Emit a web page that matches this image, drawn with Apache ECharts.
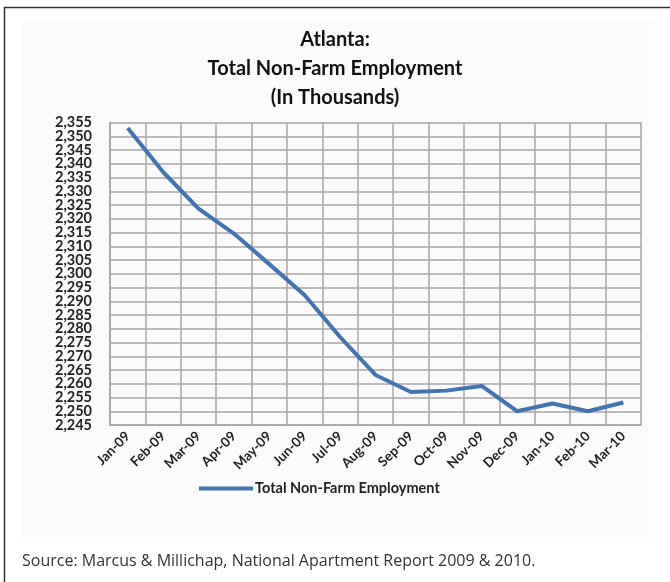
<!DOCTYPE html>
<html>
<head>
<meta charset="utf-8">
<script src="https://cdn.jsdelivr.net/npm/echarts@6/dist/echarts.min.js"></script>
<style>
html,body{margin:0;padding:0;background:#fff;}
#c{width:670px;height:582px;}
</style>
</head>
<body>
<div id="c"></div>
<script>
var titleLines = ['Atlanta:', 'Total Non-Farm Employment', '(In Thousands)'];
var categories = ['Jan-09','Feb-09','Mar-09','Apr-09','May-09','Jun-09','Jul-09','Aug-09','Sep-09','Oct-09','Nov-09','Dec-09','Jan-10','Feb-10','Mar-10'];
var employment = [2353, 2337, 2323.7, 2314.6, 2303.5, 2292.2, 2277, 2263.2, 2257, 2257.5, 2259.2, 2250, 2252.8, 2250, 2253.2];
var seriesName = 'Total Non-Farm Employment';
var yMin = 2245, yMax = 2355, yStep = 5;
var sourceText = 'Source: Marcus & Millichap, National Apartment Report 2009 & 2010.';

var chart = echarts.init(document.getElementById('c'), null, {renderer: 'canvas'});
var gridColor = '#aaa4a4';
var titleGraphics = titleLines.map(function (t, i) {
  return {type: 'text', x: 335, y: 30 + i * 29,
    style: {text: t, font: 'bold 20px Lato', fill: '#111', align: 'center', textAlign: 'center'}};
});
function stepIndex(v) { return Math.round((v - yMin) / yStep); }
var yLabelStyle = {margin: 18, fontFamily: 'Lato', fontSize: 14.5, fontWeight: 'bold', color: '#222', hideOverlap: false};
chart.setOption({
  animation: false,
  backgroundColor: '#ffffff',
  graphic: [
    {type: 'rect', shape: {x: 22, y: 20, width: 633, height: 523}, style: {fill: '#fbfbfb'}, z: -10},
    {type: 'polyline', shape: {points: [[4.5, 600], [4.5, 7.5], [680, 7.5]]}, style: {stroke: '#333', lineWidth: 1.5, fill: null}},
    {type: 'text', left: 22, top: 553, style: {text: sourceText, font: '16px "Open Sans"', fill: '#333'}}
  ].concat(titleGraphics),
  legend: {
    data: [seriesName],
    left: 194, top: 476,
    itemWidth: 54, itemHeight: 4, itemGap: 3,
    icon: 'rect',
    textStyle: {fontFamily: 'Lato', fontSize: 14.5, fontWeight: 'bold', color: '#222', padding: [0,0,0,-3]}
  },
  grid: {left: 110, right: 29, top: 122.5, bottom: 157, containLabel: false},
  xAxis: {
    type: 'category',
    data: categories,
    boundaryGap: true,
    axisLine: {show: true, lineStyle: {color: gridColor, width: 1.5}},
    axisTick: {show: false},
    splitLine: {show: true, interval: 0, lineStyle: {color: gridColor, width: 1.5}},
    axisLabel: {rotate: 45, interval: 0, margin: 9, fontFamily: 'Lato', fontSize: 13.5, fontWeight: 'bold', color: '#222'}
  },
  yAxis: [{
    type: 'value', position: 'left',
    min: yMin, max: yMax, interval: yStep,
    axisLine: {show: true, lineStyle: {color: gridColor, width: 1.5}},
    axisTick: {show: false},
    splitLine: {show: true, lineStyle: {color: gridColor, width: 1.5}},
    axisLabel: Object.assign({}, yLabelStyle, {
      showMinLabel: true, showMaxLabel: true,
      formatter: function (v) { return stepIndex(v) % 2 === 0 ? echarts.format.addCommas(v) : ''; }
    })
  }, {
    type: 'value', position: 'left', offset: 0,
    min: yMin, max: yMax, interval: yStep,
    axisLine: {show: false}, axisTick: {show: false}, splitLine: {show: false},
    axisLabel: Object.assign({}, yLabelStyle, {
      showMinLabel: false, showMaxLabel: false,
      formatter: function (v) { return stepIndex(v) % 2 === 1 ? echarts.format.addCommas(v) : ''; }
    })
  }],
  series: [{
    name: seriesName,
    type: 'line',
    yAxisIndex: 0,
    data: employment,
    symbol: 'none',
    lineStyle: {color: '#4174b3', width: 4},
    itemStyle: {color: '#4174b3'}
  }]
});
</script>
</body>
</html>
